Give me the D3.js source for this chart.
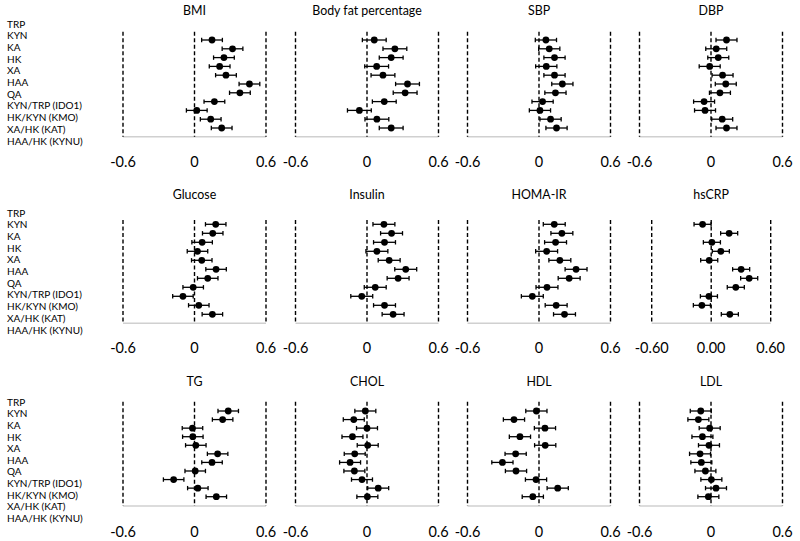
<!DOCTYPE html>
<html><head><meta charset="utf-8">
<script src="https://cdn.jsdelivr.net/npm/d3@7"></script>
<style>body{margin:0;background:#fff}svg{display:block}text{font-family:Lato,"Open Sans",sans-serif;fill:#000}</style>
</head><body><svg id="c" width="800" height="541"></svg>
<script>
const categories = ["TRP","KYN","KA","HK","XA","HAA","QA","KYN/TRP (IDO1)","HK/KYN (KMO)","XA/HK (KAT)","HAA/HK (KYNU)"];
const titles = ["BMI","Body fat percentage","SBP","DBP","Glucose","Insulin","HOMA-IR","hsCRP","TG","CHOL","HDL","LDL"];
const bmi     = [0.147,0.319,0.247,0.211,0.264,0.461,0.381,0.167,0.019,0.136,0.228];
const bodyFat = [0.061,0.234,0.203,0.081,0.134,0.340,0.320,0.145,-0.064,0.083,0.203];
const sbp     = [0.058,0.086,0.130,0.061,0.130,0.196,0.138,0.030,0.008,0.097,0.147];
const dbp     = [0.130,0.044,0.061,-0.011,0.097,0.124,0.075,-0.058,-0.050,0.094,0.130];
const glucose = [0.178,0.153,0.064,0.025,0.061,0.181,0.111,-0.011,-0.097,0.036,0.150];
const insulin = [0.142,0.206,0.147,0.083,0.186,0.325,0.261,0.069,-0.044,0.147,0.219];
const homaIR  = [0.128,0.192,0.139,0.064,0.175,0.311,0.253,0.067,-0.056,0.144,0.214];
const hsCRP   = [-0.087,0.181,0.007,0.097,-0.020,0.302,0.383,0.248,-0.023,-0.094,0.188];
const tg      = [0.283,0.236,-0.017,-0.014,0.011,0.194,0.147,0.006,-0.175,0.028,0.183];
const chol    = [-0.014,-0.111,0.0,-0.122,0.006,-0.103,-0.142,-0.106,-0.042,0.094,0.003];
const hdl     = [-0.022,-0.210,0.050,-0.160,0.052,-0.196,-0.307,-0.193,-0.025,0.157,-0.052];
const ldl     = [-0.086,-0.106,-0.011,-0.072,-0.017,-0.092,-0.081,-0.047,0.003,0.042,-0.022];
const ciHalf  = [0.087,0.100,0.089,0.088,0.086,0.092,0.092,0.086,0.086,0.088,0.089,0.088];
const tickValues = [-0.6,0,0.6];
const tickLabels = ["-0.6","0","0.6"];
const tickLabelsCRP = ["-0.60","0.00","0.60"];

const series = [bmi,bodyFat,sbp,dbp,glucose,insulin,homaIR,hsCRP,tg,chol,hdl,ldl];

// layout
const colLeft = [123,295.5,467.5,639.5];
const panelW = 143;
const rows = [
  {title:11, top:31.7, bottom:136.7, p0:40, p1:128, l0:24, l1:141, tick:162},
  {title:195, top:220, bottom:323.3, p0:224.3, p1:314.3, l0:213.3, l1:330, tick:348},
  {title:381.7, top:401.7, bottom:506, p0:411, p1:496.7, l0:402.3, l1:518.3, tick:531.7}
];

const svg = d3.select("#c");

rows.forEach((r,ri)=>{
  const ly = d3.scalePoint().domain(categories).range([r.l0,r.l1]);
  svg.append("g").selectAll("text").data(categories).join("text")
    .attr("x",7).attr("y",d=>ly(d)).attr("dy","0.35em")
    .attr("font-size",10).text(d=>d);
});

series.forEach((vals,i)=>{
  const ri = Math.floor(i/4), ci = i%4;
  const r = rows[ri];
  let x0 = colLeft[ci], x1 = colLeft[ci]+panelW;
  if (i===7){ x0 = 651.7; x1 = 770.7; }
  const x = d3.scaleLinear().domain([-0.6,0.6]).range([x0,x1]);
  const y = d3.scalePoint().domain(categories).range([r.p0,r.p1]);
  const g = svg.append("g");
  g.append("text").attr("x",x(0)).attr("y",r.title).attr("dy","0.35em")
    .attr("text-anchor","middle").attr("font-size",12.4).text(titles[i]);
  g.append("line").attr("x1",x(-0.6)).attr("x2",x(0.6)).attr("y1",r.bottom).attr("y2",r.bottom)
    .attr("stroke","#d0d0d0").attr("stroke-width",1.5);
  g.selectAll("line.ref").data(tickValues).join("line").attr("class","ref")
    .attr("x1",d=>x(d)).attr("x2",d=>x(d)).attr("y1",r.top).attr("y2",r.bottom)
    .attr("stroke","#000").attr("stroke-width",1.4).attr("stroke-dasharray","4,2.5");
  const labs = i===7 ? tickLabelsCRP : tickLabels;
  g.selectAll("text.tk").data(tickValues).join("text").attr("class","tk")
    .attr("x",d=>x(d)).attr("y",r.tick).attr("dy","0.35em").attr("text-anchor","middle")
    .attr("font-size",14.5).text((d,k)=>labs[k]);
  const h = ciHalf[i];
  const data = vals.map((v,k)=>({c:categories[k],v}));
  const pt = g.selectAll("g.pt").data(data).join("g").attr("class","pt");
  pt.append("line").attr("x1",d=>x(d.v-h)).attr("x2",d=>x(d.v+h))
    .attr("y1",d=>y(d.c)).attr("y2",d=>y(d.c)).attr("stroke","#000").attr("stroke-width",1.3);
  pt.append("line").attr("x1",d=>x(d.v-h)).attr("x2",d=>x(d.v-h))
    .attr("y1",d=>y(d.c)-2.2).attr("y2",d=>y(d.c)+2.2).attr("stroke","#000").attr("stroke-width",1.3);
  pt.append("line").attr("x1",d=>x(d.v+h)).attr("x2",d=>x(d.v+h))
    .attr("y1",d=>y(d.c)-2.2).attr("y2",d=>y(d.c)+2.2).attr("stroke","#000").attr("stroke-width",1.3);
  pt.append("circle").attr("cx",d=>x(d.v)).attr("cy",d=>y(d.c)).attr("r",3.4).attr("fill","#000");
});
</script></body></html>
